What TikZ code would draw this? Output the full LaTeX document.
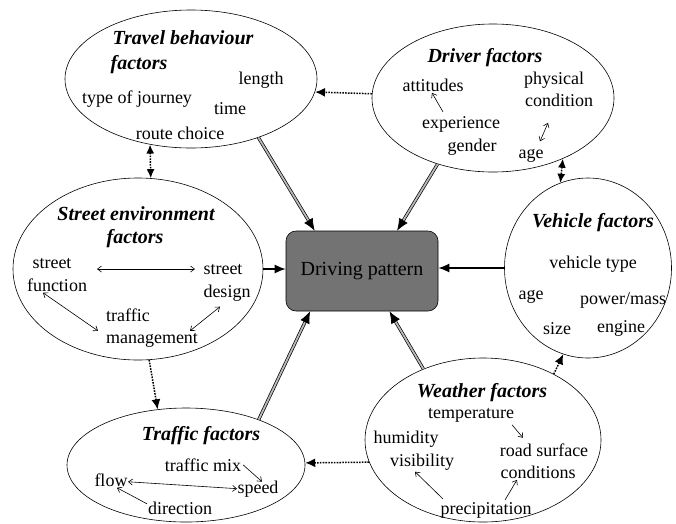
\documentclass[tikz,border=0pt]{standalone}
\usepackage{fontspec}
\setmainfont{Liberation Serif}
\usetikzlibrary{shapes.geometric,arrows.meta,calc}
\tikzset{
  x=1pt, y=-1pt,
  factor/.style={draw, ellipse, line width=0.6pt, inner sep=0pt},
  ttl/.style={anchor=base, inner sep=0pt, font=\fontsize{20}{22}\selectfont\bfseries\itshape},
  lbl/.style={anchor=base, inner sep=0pt, font=\fontsize{18}{20}\selectfont},
  sarr/.style={line width=0.6pt, -{Straight Barb[length=4pt,width=6pt]}},
  sdarr/.style={line width=0.6pt, {Straight Barb[length=4pt,width=6pt]}-{Straight Barb[length=4pt,width=6pt]}},
  main/.style={double=gray!55, draw=black, line width=0.7pt, double distance=1.8pt, -{Latex[length=12pt,width=10pt]}},
  solidarr/.style={line width=1.5pt, -{Latex[length=11pt,width=9pt]}},
  dotarr/.style={line width=1.5pt, dash pattern=on 1.6pt off 1.2pt, -{Latex[length=10pt,width=9pt]}},
  dotdarr/.style={line width=1.5pt, dash pattern=on 1.6pt off 1.2pt, {Latex[length=9pt,width=8pt]}-{Latex[length=9pt,width=8pt]}},
}
\begin{document}
\begin{tikzpicture}
\useasboundingbox (0,0) rectangle (676,523);

% ellipses
\node[factor, minimum width=252pt, minimum height=138pt] (trav) at (191,79) {};
\node[factor, minimum width=242pt, minimum height=148pt] (drv) at (493,98) {};
\node[factor, minimum width=250pt, minimum height=182pt] (street) at (138,269) {};
\node[factor, minimum width=167pt, minimum height=180pt] (veh) at (588,268) {};
\node[factor, minimum width=238pt, minimum height=114pt] (traf) at (186,465) {};
\node[factor, minimum width=236pt, minimum height=164pt] (wea) at (483,440) {};

% driving pattern
\node[draw, line width=0.6pt, fill=black!55, rounded corners=10pt, minimum width=152pt, minimum height=80pt,
      font=\fontsize{20}{22}\selectfont] (dp) at (362,271) {Driving pattern};

% Travel behaviour texts
\node[ttl] (t1) at (183,44) {Travel behaviour};
\node[ttl] (t2) at (139,69) {factors};
\node[lbl] (len) at (261,84) {length};
\node[lbl] (toj) at (137,103) {type of journey};
\node[lbl] (tim) at (230,114) {time};
\node[lbl] (rc) at (180,139) {route choice};

% Driver texts
\node[ttl] (d1) at (485,62) {Driver factors};
\node[lbl] (att) at (433,91) {attitudes};
\node[lbl] (phy) at (554,84) {physical};
\node[lbl] (cnd) at (559,106) {condition};
\node[lbl] (exp) at (461,128) {experience};
\node[lbl] (gen) at (472,151) {gender};
\node[lbl] (dage) at (531,158) {age};

% Street texts
\node[ttl] (s1) at (136,220) {Street environment};
\node[ttl] (s2) at (135,243) {factors};
\node[lbl] (sst) at (52,268) {street};
\node[lbl] (sfn) at (57,291) {function};
\node[lbl] (sst2) at (223,274) {street};
\node[lbl] (sdz) at (227,297) {design};
\node[lbl] (stf) at (128,321) {traffic};
\node[lbl] (smg) at (152,343) {management};

% Vehicle texts
\node[ttl] (v1) at (593,227) {Vehicle factors};
\node[lbl] (vt) at (593,268) {vehicle type};
\node[lbl] (vage) at (531,299) {age};
\node[lbl] (vpm) at (623,304) {power/mass};
\node[lbl] (vsz) at (557,334) {size};
\node[lbl] (ven) at (621,332) {engine};

% Traffic texts
\node[ttl] (f1) at (201,440) {Traffic factors};
\node[lbl] (fmx) at (203,471) {traffic mix};
\node[lbl] (ffl) at (111,486) {flow};
\node[lbl] (fsp) at (258,493) {speed};
\node[lbl] (fdi) at (180,514) {direction};

% Weather texts
\node[ttl] (w1) at (482,397) {Weather factors};
\node[lbl] (wte) at (471,418) {temperature};
\node[lbl] (whu) at (406,443) {humidity};
\node[lbl] (wvi) at (422,466) {visibility};
\node[lbl] (wrs) at (544,456) {road surface};
\node[lbl] (wco) at (538,478) {conditions};
\node[lbl] (wpr) at (486,514) {precipitation};

% inner arrows
\draw[sarr] ($(exp)+(-18,-12)$) -- ($(att)+(-1,8)$);
\draw[sdarr] ($(dage)+(9,-14)$) -- ($(cnd)+(-11,23)$);
\draw[sdarr] ($(sst)+(45,6)$) -- ($(sst2)+(-28,0)$);
\draw[sdarr] ($(sfn)+(-14,8)$) -- ($(smg)+(-54,-9)$);
\draw[sdarr] ($(sdz)+(-7,14)$) -- ($(smg)+(38,-9)$);
\draw[sdarr] ($(ffl)+(17,2)$) -- ($(fsp)+(-21,0)$);
\draw[sarr] ($(fmx)+(40,0)$) -- ($(fsp)+(4,-7)$);
\draw[sarr] ($(fdi)+(-33,-4)$) -- ($(ffl)+(6,8)$);
\draw[sarr] ($(wte)+(41,10)$) -- ($(wrs)+(-21,-12)$);
\draw[sarr] ($(wpr)+(-43,-11)$) -- ($(wvi)+(-7,10)$);
\draw[sarr] ($(wpr)+(19,-10)$) -- ($(wco)+(-21,8)$);

% main connectors
\draw[main] (trav.-41) -- ($(dp.north west)!0.19!(dp.north east)$);
\draw[main] (drv.230) -- ($(dp.north west)!0.73!(dp.north east)$);
\draw[main] (traf.32) -- ($(dp.south west)!0.16!(dp.south east)$);
\draw[main] (wea.130) -- ($(dp.south west)!0.68!(dp.south east)$);
\draw[solidarr] (street.east) -- (dp.west |- street.east);
\draw[solidarr] (veh.west) -- (dp.east |- veh.west);

% dotted connectors
\draw[dotarr] (drv.178) -- (trav.-6.5);
\draw[dotdarr] (trav.238) -- (street.82.5);
\draw[dotarr] (street.-83.7) -- (traf.117.4);
\draw[dotarr] (wea.191.5) -- (traf.1);
\draw[dotarr] (wea.43.7) -- (veh.254.3);
\draw[dotdarr] (drv.-41.5) -- (veh.108.2);
\end{tikzpicture}
\end{document}
